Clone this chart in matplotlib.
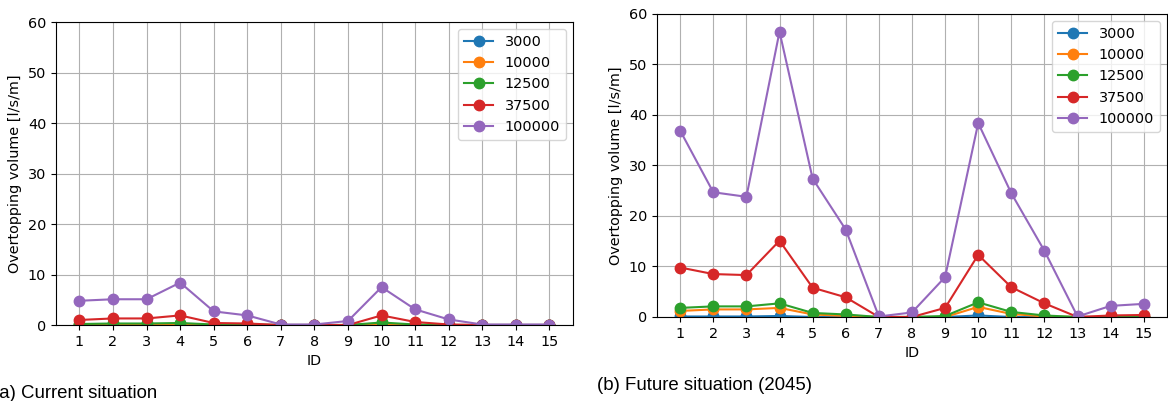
import numpy as np
import matplotlib
matplotlib.use("Agg")
import matplotlib.pyplot as plt

# IDs and return periods
ids = np.arange(1, 16)
labels = ['3000', '10000', '12500', '37500', '100000']

# current situation
cur_3000 = [0, 0, 0, 0, 0, 0, 0, 0, 0, 0, 0, 0, 0, 0, 0]
cur_10000 = [0.1, 0.1, 0.1, 0.1, 0, 0, 0, 0, 0, 0.2, 0, 0, 0, 0, 0]
cur_12500 = [0.2, 0.3, 0.3, 0.4, 0.1, 0.1, 0, 0, 0, 0.5, 0.1, 0, 0, 0, 0]
cur_37500 = [1.0, 1.3, 1.3, 1.9, 0.4, 0.3, 0, 0, 0, 1.9, 0.6, 0.1, 0, 0, 0]
cur_100000 = [4.8, 5.1, 5.1, 8.4, 2.7, 1.9, 0.1, 0.1, 0.8, 7.5, 3.1, 1.1, 0.1, 0.1, 0.1]

# future situation (2045)
fut_3000 = [0.1, 0.1, 0.1, 0.2, 0, 0, 0, 0, 0, 0.3, 0, 0, 0, 0, 0]
fut_10000 = [1.2, 1.5, 1.5, 1.8, 0.5, 0.2, 0, 0, 0, 2.0, 0.6, 0.1, 0, 0, 0]
fut_12500 = [1.8, 2.1, 2.1, 2.7, 0.8, 0.5, 0, 0, 0.2, 2.9, 1.0, 0.3, 0, 0, 0]
fut_37500 = [9.8, 8.5, 8.3, 15.1, 5.8, 3.9, 0, 0, 1.8, 12.3, 5.9, 2.7, 0, 0.3, 0.4]
fut_100000 = [36.9, 24.7, 23.8, 56.5, 27.4, 17.3, 0.1, 0.9, 7.9, 38.4, 24.5, 13.1, 0.1, 2.2, 2.6]

current = [cur_3000, cur_10000, cur_12500, cur_37500, cur_100000]
future = [fut_3000, fut_10000, fut_12500, fut_37500, fut_100000]

fig = plt.figure(figsize=(11.68, 4.01), dpi=100)
ax1 = fig.add_axes([0.0479, 0.1895, 0.4426, 0.7556])
ax2 = fig.add_axes([0.5625, 0.2095, 0.4366, 0.7556])

for ax, data in [(ax1, current), (ax2, future)]:
    for vals, lab in zip(data, labels):
        ax.plot(ids, vals, '-o', ms=7.5, label=lab)
    ax.set_ylim(0, 60)
    ax.set_xticks(ids)
    ax.grid(True)
    ax.tick_params(labelsize=10.4)
    ax.set_xlabel('ID', fontsize=10.4)
    ax.set_ylabel('Overtopping volume [l/s/m]', fontsize=10.4)
    ax.legend(loc='upper right', fontsize=10.4)

# captions (the left one is clipped at the edge, as in the original)
fig.text(-0.006, 0.008, '(a) Current situation', fontsize=13.4, family='Liberation Sans')
fig.text(0.511, 0.028, '(b) Future situation (2045)', fontsize=13.4, family='Liberation Sans')

fig.savefig('out.png', dpi=100)
